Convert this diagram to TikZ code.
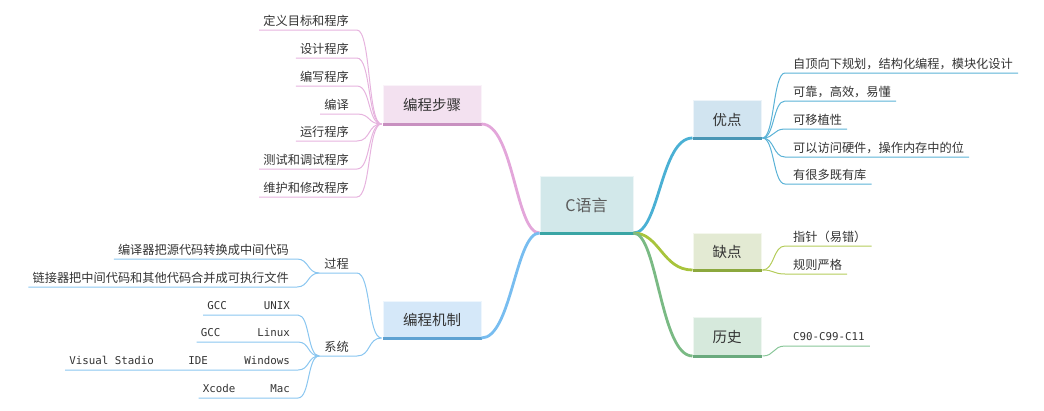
\documentclass[tikz,border=0pt]{standalone}
\usepackage{fontspec}
\newfontfamily\cjk{Noto Sans CJK SC}
\newfontfamily\monof{DejaVu Sans Mono}
\definecolor{txt}{HTML}{333333}
\definecolor{ctxt}{HTML}{5A5A5A}
\definecolor{cfill}{HTML}{D2E8EA}
\definecolor{cbarc}{HTML}{3AA5A5}
\definecolor{pfill}{HTML}{F3E1F0}
\definecolor{pbarc}{HTML}{C890C0}
\definecolor{pline}{HTML}{E3A6DA}
\definecolor{pleaf}{HTML}{E6B3DE}
\definecolor{bfill}{HTML}{D5E8F9}
\definecolor{bbarc}{HTML}{5FA2D2}
\definecolor{bline}{HTML}{78BDF0}
\definecolor{bleaf}{HTML}{8AC6F0}
\definecolor{ydfill}{HTML}{D1E4F0}
\definecolor{ydbarc}{HTML}{4A96B5}
\definecolor{ydline}{HTML}{4AB0D4}
\definecolor{ydleaf}{HTML}{5AB2D6}
\definecolor{qfill}{HTML}{E3EAD3}
\definecolor{qbarc}{HTML}{8CA83E}
\definecolor{qline}{HTML}{A8C43C}
\definecolor{qleaf}{HTML}{B4CC5A}
\definecolor{hfill}{HTML}{D6E9DC}
\definecolor{hbarc}{HTML}{6AAA7D}
\definecolor{hline}{HTML}{7ABA84}
\definecolor{hleaf}{HTML}{88C698}
\begin{document}
\begin{tikzpicture}[x=1pt,y=-1pt,
  topic/.style={rectangle, inner sep=0pt, text=txt, line width=1pt, font=\cjk\fontsize{14.5}{15}\selectfont},
  leaf/.style={inner xsep=0pt, inner ysep=2pt, text height=9.5pt, text depth=2pt, text=txt, font=\cjk\fontsize{12.2}{13}\selectfont},
  mleaf/.style={inner xsep=0pt, inner ysep=3.5pt, text height=8pt, text depth=2pt, text=txt, font=\monof\fontsize{10.8}{12}\selectfont},
  mainconn/.style={line width=2.8pt},
  leafconn/.style={line width=1pt},
  topicbar/.style={line width=3pt}
]
\useasboundingbox (0,0) rectangle (1044,410);

% topics
\node[topic, fill=cfill, draw=cfill!40!white, minimum width=93pt, minimum height=58pt, text=ctxt, font=\cjk\fontsize{16}{16}\selectfont] (c) at (586.5,205) {C语言};
\node[topic, fill=pfill, draw=pfill!40!white, minimum width=98pt, minimum height=40pt] (bz) at (432,105) {编程步骤};
\node[topic, fill=bfill, draw=bfill!40!white, minimum width=98pt, minimum height=38pt] (jz) at (432,320) {编程机制};
\node[topic, fill=ydfill, draw=ydfill!40!white, minimum width=68pt, minimum height=39pt] (yd) at (727,119.5) {优点};
\node[topic, fill=qfill, draw=qfill!40!white, minimum width=68pt, minimum height=38pt] (qd) at (727,252) {缺点};
\node[topic, fill=hfill, draw=hfill!40!white, minimum width=68pt, minimum height=40pt] (ls) at (727,337) {历史};

\draw[topicbar, cbarc] ([yshift=1.5pt]c.south west) -- ([yshift=1.5pt]c.south east);
\draw[topicbar, pbarc] ([yshift=1.5pt]bz.south west) -- ([yshift=1.5pt]bz.south east);
\draw[topicbar, bbarc] ([yshift=1.5pt]jz.south west) -- ([yshift=1.5pt]jz.south east);
\draw[topicbar, ydbarc] ([yshift=1.5pt]yd.south west) -- ([yshift=1.5pt]yd.south east);
\draw[topicbar, qbarc] ([yshift=1.5pt]qd.south west) -- ([yshift=1.5pt]qd.south east);
\draw[topicbar, hbarc] ([yshift=1.5pt]ls.south west) -- ([yshift=1.5pt]ls.south east);

% main connectors
\draw[mainconn, pline] ([yshift=1.5pt]c.south west) .. controls +(-24,0) and +(32,0) .. ([yshift=1.5pt]bz.south east);
\draw[mainconn, bline] ([yshift=1.5pt]c.south west) .. controls +(-24,0) and +(30,0) .. ([yshift=1.5pt]jz.south east);
\draw[mainconn, ydline] ([yshift=1.5pt]c.south east) .. controls +(26,0) and +(-32,0) .. ([yshift=1.5pt]yd.south west);
\draw[mainconn, qline] ([yshift=1.5pt]c.south east) .. controls +(26,0) and +(-30,0) .. ([yshift=1.5pt]qd.south west);
\draw[mainconn, hline] ([yshift=1.5pt]c.south east) .. controls +(24,0) and +(-32,0) .. ([yshift=1.5pt]ls.south west);

% 编程步骤 leaves
\node[leaf, anchor=south east] (s1) at (349,30) {定义目标和程序};
\node[leaf, anchor=south east] (s2) at (349,58) {设计程序};
\node[leaf, anchor=south east] (s3) at (349,86) {编写程序};
\node[leaf, anchor=south east] (s4) at (349,114) {编译};
\node[leaf, anchor=south east] (s5) at (349,141) {运行程序};
\node[leaf, anchor=south east] (s6) at (349,169) {测试和调试程序};
\node[leaf, anchor=south east] (s7) at (349,197) {维护和修改程序};
\foreach \n in {s1,s2,s3,s4,s5,s6,s7}{
  \draw[leafconn, pleaf] ([xshift=-1pt,yshift=1.5pt]bz.south west) .. controls +(-14,0) and +(14,0) .. ([xshift=8pt]\n.south east) -- ([xshift=-4pt]\n.south west);
}

% 编程机制 sub-topics
\node[leaf, anchor=south east] (gc) at (349,273) {过程};
\node[leaf, anchor=south east] (xt) at (349,356) {系统};
\foreach \n in {gc,xt}{
  \draw[leafconn, bleaf] ([xshift=-1pt,yshift=1.5pt]jz.south west) .. controls +(-14,0) and +(14,0) .. ([xshift=8pt]\n.south east) -- ([xshift=-5pt]\n.south west);
}
\node[leaf, anchor=south east] (g1) at (289,259) {编译器把源代码转换成中间代码};
\node[leaf, anchor=south east] (g2) at (289,287) {链接器把中间代码和其他代码合并成可执行文件};
\foreach \n in {g1,g2}{
  \draw[leafconn, bleaf] ([xshift=-5pt]gc.south west) .. controls +(-12,0) and +(12,0) .. ([xshift=8pt]\n.south east) -- ([xshift=-4pt]\n.south west);
}
\node[mleaf, anchor=south east] (x1) at (290,315) {GCC\hspace{37pt}UNIX};
\node[mleaf, anchor=south east] (x2) at (290,342) {GCC\hspace{37pt}Linux};
\node[mleaf, anchor=south east] (x3) at (290,370) {Visual Stadio\hspace{34.5pt}IDE\hspace{36.5pt}Windows};
\node[mleaf, anchor=south east] (x4) at (290,398) {Xcode\hspace{35pt}Mac};
\foreach \n in {x1,x2,x3,x4}{
  \draw[leafconn, bleaf] ([xshift=-5pt]xt.south west) .. controls +(-12,0) and +(12,0) .. ([xshift=8pt]\n.south east) -- ([xshift=-4pt]\n.south west);
}

% 优点 leaves
\node[leaf, anchor=south west] (y1) at (793,73) {自顶向下规划，结构化编程，模块化设计};
\node[leaf, anchor=south west] (y2) at (793,101) {可靠，高效，易懂};
\node[leaf, anchor=south west] (y3) at (793,129) {可移植性};
\node[leaf, anchor=south west] (y4) at (793,157) {可以访问硬件，操作内存中的位};
\node[leaf, anchor=south west] (y5) at (793,184) {有很多既有库};
\foreach \n in {y1,y2,y3,y4,y5}{
  \draw[leafconn, ydleaf] ([xshift=1pt,yshift=1.5pt]yd.south east) .. controls +(12,0) and +(-12,0) .. ([xshift=-8pt]\n.south west) -- ([xshift=5pt]\n.south east);
}

% 缺点 leaves
\node[leaf, anchor=south west] (q1) at (793,246) {指针（易错）};
\node[leaf, anchor=south west] (q2) at (793,274) {规则严格};
\foreach \n in {q1,q2}{
  \draw[leafconn, qleaf] ([xshift=1pt,yshift=1.5pt]qd.south east) .. controls +(12,0) and +(-12,0) .. ([xshift=-8pt]\n.south west) -- ([xshift=5pt]\n.south east);
}

% 历史 leaf
\node[mleaf, anchor=south west] (h1) at (793,346) {C90-C99-C11};
\draw[leafconn, hleaf] ([xshift=1pt,yshift=1.5pt]ls.south east) .. controls +(12,0) and +(-12,0) .. ([xshift=-8pt]h1.south west) -- ([xshift=5pt]h1.south east);
\end{tikzpicture}
\end{document}
